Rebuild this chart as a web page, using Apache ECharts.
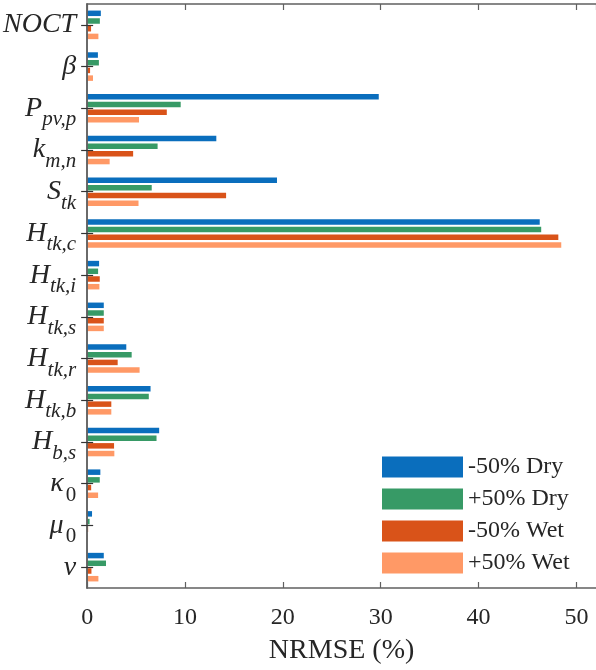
<!DOCTYPE html>
<html>
<head>
<meta charset="utf-8">
<script src="https://cdn.jsdelivr.net/npm/echarts@6/dist/echarts.min.js"></script>
<style>html,body{margin:0;padding:0;background:#fff;}#c{width:596px;height:670px;}</style>
</head>
<body>
<div id="c"></div>
<script>
const categories = ['{m|NOCT}', '{m|β}', '{m|P}{s|pv,p}', '{m|k}{s|m,n}', '{m|S}{s|tk}', '{m|H}{s|tk,c}', '{m|H}{s|tk,i}', '{m|H}{s|tk,s}', '{m|H}{s|tk,r}', '{m|H}{s|tk,b}', '{m|H}{s|b,s}', '{m|κ}{u|0}', '{m|μ}{u|0}', '{m|ν}'];
const seriesNames = ['-50% Dry', '+50% Dry', '-50% Wet', '+50% Wet'];
const dryMinus = [1.4, 1.1, 29.8, 13.2, 19.4, 46.25, 1.22, 1.7, 4.0, 6.48, 7.36, 1.35, 0.5, 1.7];
const dryPlus  = [1.3, 1.2, 9.56, 7.2, 6.6, 46.4, 1.12, 1.7, 4.55, 6.3, 7.09, 1.29, 0.25, 1.93];
const wetMinus = [0.4, 0.3, 8.14, 4.7, 14.2, 48.15, 1.29, 1.7, 3.12, 2.47, 2.75, 0.41, 0.1, 0.44];
const wetPlus  = [1.15, 0.6, 5.3, 2.3, 5.25, 48.45, 1.25, 1.7, 5.36, 2.47, 2.78, 1.12, 0.05, 1.15];
const xTicks = [0, 10, 20, 30, 40, 50];
const colors = ['#0A6EBD', '#379A66', '#D95319', '#FF9966'];

const font = 'Liberation Serif';
const axisColor = '#606060';
const chart = echarts.init(document.getElementById('c'), null, {renderer: 'canvas'});
const values = [dryMinus, dryPlus, wetMinus, wetPlus];
const grid = {left: 86, right: 0, top: 4, bottom: 79, containLabel: false};
const valAxisBase = {
  type: 'value', min: 0, max: 52, interval: 10,
  axisLine: {show: true, lineStyle: {color: axisColor, width: 1.5}},
  axisTick: {show: true, inside: true, length: 6, lineStyle: {color: axisColor, width: 1.2}},
  splitLine: {show: false}
};
const catAxisBase = {
  type: 'category', data: categories, inverse: true,
  axisLine: {show: true, lineStyle: {color: axisColor, width: 1.5}},
  axisTick: {show: true, inside: true, alignWithLabel: true, length: 6, lineStyle: {color: '#333', width: 1.2}},
  z: 10
};
chart.setOption({
  animation: false,
  backgroundColor: '#fff',
  grid: grid,
  legend: {
    orient: 'vertical', left: 377, top: 450,
    itemWidth: 81, itemHeight: 21, itemGap: 8,
    icon: 'rect',
    data: seriesNames,
    textStyle: {fontFamily: font, fontSize: 24, color: '#262626'},
    backgroundColor: '#fff'
  },
  xAxis: [
    Object.assign({}, valAxisBase, {
      position: 'bottom',
      name: 'NRMSE (%)', nameLocation: 'middle', nameGap: 49,
      nameTextStyle: {fontFamily: font, fontSize: 28, color: '#262626'},
      axisLabel: {fontFamily: font, fontSize: 24, color: '#262626', margin: 18, showMaxLabel: false,
        formatter: v => xTicks.indexOf(v) >= 0 ? String(v) : ''}
    }),
    Object.assign({}, valAxisBase, {position: 'top', axisLabel: {show: false}})
  ],
  yAxis: [
    Object.assign({}, catAxisBase, {
      position: 'left',
      axisLabel: {
        margin: 11, align: 'right', verticalAlign: 'middle',
        rich: {
          m: {fontFamily: font, fontStyle: 'italic', fontSize: 28, color: '#262626', verticalAlign: 'top', lineHeight: 28},
          s: {fontFamily: font, fontStyle: 'italic', fontSize: 21, color: '#262626', verticalAlign: 'top', padding: [15, 0, 0, 0], lineHeight: 21},
          u: {fontFamily: font, fontSize: 21, color: '#262626', verticalAlign: 'top', padding: [15, 0, 0, 2], lineHeight: 21}
        }
      }
    }),
    Object.assign({}, catAxisBase, {position: 'right', axisLabel: {show: false}})
  ],
  series: values.map((arr, i) => ({
    type: 'bar', name: seriesNames[i], data: arr,
    xAxisIndex: 0, yAxisIndex: 0,
    barWidth: 5.5, barGap: '40%',
    itemStyle: {color: colors[i]}
  }))
});
</script>
</body>
</html>
